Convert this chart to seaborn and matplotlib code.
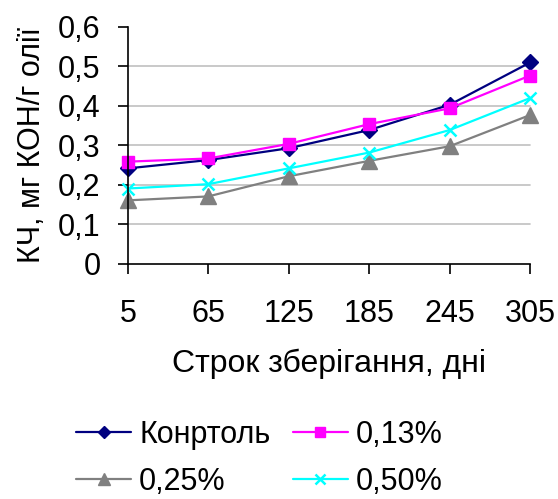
import matplotlib
matplotlib.use("Agg")
import matplotlib.pyplot as plt
import seaborn as sns
import pandas as pd

days = [5, 65, 125, 185, 245, 305]
control = [0.242, 0.263, 0.293, 0.339, 0.403, 0.510]
dose_013 = [0.259, 0.267, 0.304, 0.354, 0.394, 0.477]
dose_025 = [0.161, 0.171, 0.222, 0.261, 0.298, 0.377]
dose_050 = [0.191, 0.202, 0.242, 0.282, 0.339, 0.420]
series_names = ["Конртоль", "0,13%", "0,25%", "0,50%"]
y_ticks = [0, 0.1, 0.2, 0.3, 0.4, 0.5, 0.6]
y_tick_labels = ["0", "0,1", "0,2", "0,3", "0,4", "0,5", "0,6"]

sns.set_style("white")
plt.rcParams["font.family"] = ["Liberation Sans", "DejaVu Sans"]
plt.rcParams.update({"text.color": "black", "axes.labelcolor": "black",
                     "xtick.color": "black", "ytick.color": "black"})

rows = []
for name, vals in zip(series_names, [control, dose_013, dose_025, dose_050]):
    for d, v in zip(days, vals):
        rows.append({"day": d, "value": v, "series": name})
df = pd.DataFrame(rows)

palette = {"Конртоль": "#000080", "0,13%": "#FF00FF", "0,25%": "#808080", "0,50%": "#00FFFF"}
markers = {"Конртоль": "D", "0,13%": "s", "0,25%": "^", "0,50%": "x"}
msizes = {"Конртоль": 8, "0,13%": 9, "0,25%": 11, "0,50%": 9}

fig = plt.figure(figsize=(5.58, 4.99), dpi=100)
ax = fig.add_axes([0.229, 0.471, 0.721, 0.475])

handles = {}
for name in series_names:
    sub = df[df["series"] == name]
    sns.lineplot(data=sub, x="day", y="value", ax=ax, color=palette[name],
                 marker=markers[name], markersize=msizes[name],
                 markeredgecolor=palette[name], markerfacecolor=palette[name],
                 markeredgewidth=1.8 if name == "0,50%" else 1,
                 linewidth=1.6, label=name, legend=False)
    handles[name] = ax.lines[-1]

ax.set_xlim(5, 305)
ax.set_ylim(0, 0.6)
ax.set_xticks(days)
ax.set_xticklabels([str(d) for d in days])
ax.set_yticks(y_ticks)
ax.set_yticklabels(y_tick_labels)
for yv in y_ticks[1:-1]:
    ax.axhline(yv, color="#C0C0C0", linewidth=1.2, zorder=0)

for s in ["top", "right"]:
    ax.spines[s].set_visible(False)
for s in ["left", "bottom"]:
    ax.spines[s].set_color("black")
    ax.spines[s].set_linewidth(1.2)
ax.spines["bottom"].set_zorder(5)

ax.tick_params(axis="both", direction="out", length=7.5, width=1.2, color="black",
               labelcolor="black", labelsize=22, bottom=True, left=True)
ax.tick_params(axis="y", pad=12)
ax.tick_params(axis="x", pad=18)
ax.set_xlabel("Строк зберігання, дні", fontsize=23, labelpad=14)
ax.set_ylabel("КЧ, мг КОН/г олії", fontsize=22, labelpad=8)
for ln in ax.lines:
    ln.set_clip_on(False)

order = ["Конртоль", "0,25%", "0,13%", "0,50%"]
fig.legend([handles[n] for n in order], order, loc="upper left",
           bbox_to_anchor=(76 / 558, 1 - 420 / 499), ncol=2, frameon=False,
           fontsize=22, borderpad=0, borderaxespad=0,
           handlelength=1.8, handletextpad=0.27, columnspacing=0.72,
           labelspacing=0.56, markerscale=0.8)

fig.savefig("out.png", dpi=100)
